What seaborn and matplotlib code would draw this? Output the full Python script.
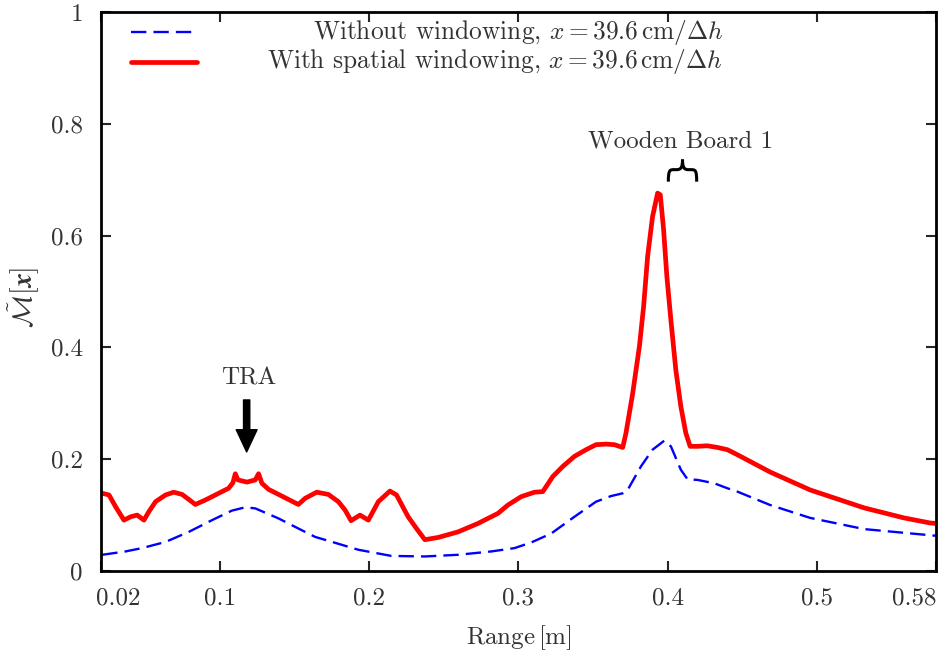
import numpy as np
import pandas as pd
import matplotlib
matplotlib.use("Agg")
import matplotlib.pyplot as plt
import matplotlib.transforms as mtrans
from matplotlib.path import Path
from matplotlib.patches import PathPatch
import seaborn as sns

# Normalised image magnitude along range, without windowing
range_plain = [0.0209, 0.0365, 0.0476, 0.0633, 0.0789, 0.0945, 0.1078, 0.1168, 0.1235,
               0.1391, 0.1524, 0.1636, 0.1725, 0.1926, 0.2147, 0.2372, 0.2595, 0.2818,
               0.2974, 0.3085, 0.3219, 0.3375, 0.3520, 0.3620, 0.3699, 0.3732, 0.3821,
               0.3899, 0.3977, 0.4022, 0.4089, 0.4134, 0.4200, 0.4312, 0.4401, 0.4468,
               0.4688, 0.4956, 0.5317, 0.5759, 0.5800]
mag_plain = [0.029, 0.035, 0.041, 0.052, 0.070, 0.091, 0.108, 0.114, 0.112,
             0.094, 0.076, 0.061, 0.054, 0.038, 0.027, 0.026, 0.029, 0.035,
             0.041, 0.051, 0.067, 0.097, 0.124, 0.134, 0.139, 0.145, 0.187,
             0.217, 0.233, 0.223, 0.181, 0.164, 0.163, 0.157, 0.148, 0.142,
             0.118, 0.095, 0.075, 0.064, 0.063]

# ... and with spatial windowing
range_win = [0.0209, 0.0254, 0.0298, 0.0354, 0.0399, 0.0443, 0.0488, 0.0521, 0.0566,
             0.0633, 0.0688, 0.0744, 0.0789, 0.0833, 0.0900, 0.0989, 0.1056, 0.1085,
             0.1101, 0.1118, 0.1179, 0.1235, 0.1257, 0.1279, 0.1324, 0.1413, 0.1524,
             0.1569, 0.1647, 0.1725, 0.1792, 0.1837, 0.1877, 0.1937, 0.1993, 0.2060,
             0.2138, 0.2182, 0.2260, 0.2316, 0.2372, 0.2461, 0.2595, 0.2728, 0.2862,
             0.2929, 0.3018, 0.3108, 0.3163, 0.3230, 0.3297, 0.3375, 0.3453, 0.3520,
             0.3587, 0.3643, 0.3699, 0.3721, 0.3766, 0.3811, 0.3839, 0.3866, 0.3899,
             0.3933, 0.3951, 0.3973, 0.3995, 0.4022, 0.4055, 0.4089, 0.4122, 0.4151,
             0.4200, 0.4267, 0.4334, 0.4401, 0.4468, 0.4688, 0.4956, 0.5317, 0.5585,
             0.5759, 0.5800]
mag_win = [0.139, 0.136, 0.115, 0.091, 0.097, 0.100, 0.091, 0.106, 0.124,
           0.136, 0.141, 0.137, 0.128, 0.119, 0.127, 0.139, 0.148, 0.158,
           0.174, 0.163, 0.159, 0.163, 0.174, 0.157, 0.146, 0.134, 0.119,
           0.130, 0.141, 0.137, 0.124, 0.109, 0.090, 0.100, 0.091, 0.124,
           0.143, 0.136, 0.097, 0.076, 0.056, 0.060, 0.070, 0.085, 0.103,
           0.118, 0.133, 0.141, 0.142, 0.169, 0.187, 0.205, 0.217, 0.226,
           0.227, 0.226, 0.221, 0.247, 0.318, 0.402, 0.473, 0.563, 0.634,
           0.676, 0.673, 0.611, 0.527, 0.449, 0.360, 0.294, 0.247, 0.223,
           0.223, 0.224, 0.221, 0.217, 0.208, 0.177, 0.145, 0.113, 0.095,
           0.086, 0.085]

label_plain = r"Without windowing, $x = 39.6\,\mathrm{cm}/\Delta h$"
label_win = r"With spatial windowing, $x = 39.6\,\mathrm{cm}/\Delta h$"

x_ticks = [0.02, 0.1, 0.2, 0.3, 0.4, 0.5, 0.58]
x_tick_labels = ["0.02", "0.1", "0.2", "0.3", "0.4", "0.5", "0.58"]
y_ticks = [0, 0.2, 0.4, 0.6, 0.8, 1.0]
y_tick_labels = ["0", "0.2", "0.4", "0.6", "0.8", "1"]

sns.set_theme(style="ticks")
plt.rcParams.update({
    "font.family": "serif",
    "font.serif": ["cmr10", "DejaVu Serif"],
    "mathtext.fontset": "cm",
    "axes.formatter.use_mathtext": True,
    "axes.unicode_minus": False,
})
TXT = "#333333"
FS = 18

fig = plt.figure(figsize=(9.41, 6.57), dpi=100)
ax = fig.add_axes([0.1073, 0.1309, 0.8874, 0.8508])

df_plain = pd.DataFrame({"range": range_plain, "mag": mag_plain})
df_win = pd.DataFrame({"range": range_win, "mag": mag_win})

sns.lineplot(data=df_plain, x="range", y="mag", ax=ax, color="#0000ff",
             linewidth=1.7, linestyle=(0, (6.5, 3.0)), estimator=None)
sns.lineplot(data=df_win, x="range", y="mag", ax=ax, color="#ff0000",
             linewidth=3.4, estimator=None)

ax.set_xlim(0.02, 0.58)
ax.set_ylim(0, 1)
ax.set_xticks(x_ticks)
ax.set_xticklabels(x_tick_labels)
ax.set_yticks(y_ticks)
ax.set_yticklabels(y_tick_labels)
ax.tick_params(direction="in", length=7, width=1.5, top=True, right=True,
               labelsize=FS, labelcolor=TXT)
ax.tick_params(axis="x", pad=12)
ax.tick_params(axis="y", pad=13)
# edge tick labels sit inside the frame
xlabels = ax.get_xticklabels()
xlabels[0].set_horizontalalignment("left")
xlabels[0].set_transform(xlabels[0].get_transform() +
                         mtrans.ScaledTranslation(-5 / 100, 0, fig.dpi_scale_trans))
xlabels[-1].set_horizontalalignment("right")
for s in ax.spines.values():
    s.set_linewidth(2.0)
    s.set_color("black")

ax.set_xlabel(r"Range$\,[\mathrm{m}]$", fontsize=FS, color=TXT, labelpad=10)
ax.set_ylabel(r"$\tilde{\mathcal{M}}[\mathbfit{x}]$", fontsize=20, color=TXT)
ax.yaxis.set_label_coords(-0.071, 0.49)

# key: line samples on the left, labels right-aligned
handles = ax.get_lines()[:2]
ax.legend(handles, ["", ""], loc="upper left", bbox_to_anchor=(0.0248, 0.9937),
          frameon=False, handlelength=3.0, handletextpad=0, labelspacing=0.45,
          fontsize=16, borderaxespad=0)
ax.text(0.745, 0.963, label_plain, transform=ax.transAxes, ha="right", va="center",
        fontsize=18.3, color=TXT)
ax.text(0.745, 0.911, label_win, transform=ax.transAxes, ha="right", va="center",
        fontsize=18.3, color=TXT)

# TRA marker
ax.text(0.119, 0.345, "TRA", ha="center", va="center", fontsize=FS, color=TXT)
ax.annotate("", xy=(0.1177, 0.213), xytext=(0.1177, 0.306),
            arrowprops=dict(facecolor="black", edgecolor="black", width=4.5,
                            headwidth=15, headlength=16, shrink=0))

# Wooden board label with brace
ax.text(0.4085, 0.768, "Wooden Board 1", ha="center", va="center", fontsize=FS, color=TXT)
x0, x1, xm = 0.4005, 0.4195, 0.410
yb, yh, yt = 0.6965, 0.718, 0.736
verts = [(x0, yb), (x0, yh), (x0 + 0.001, yh), (x0 + 0.004, yh),
         (xm - 0.004, yh),
         (xm - 0.001, yh), (xm, yh + 0.004), (xm, yt),
         (xm, yh + 0.004), (xm + 0.001, yh), (xm + 0.004, yh),
         (x1 - 0.004, yh),
         (x1 - 0.001, yh), (x1, yh), (x1, yb)]
codes = [Path.MOVETO, Path.CURVE4, Path.CURVE4, Path.CURVE4,
         Path.LINETO,
         Path.CURVE4, Path.CURVE4, Path.CURVE4,
         Path.CURVE4, Path.CURVE4, Path.CURVE4,
         Path.LINETO,
         Path.CURVE4, Path.CURVE4, Path.CURVE4]
ax.add_patch(PathPatch(Path(verts, codes), facecolor="none", edgecolor="black",
                       linewidth=2.2, clip_on=False))

fig.savefig("out.png", dpi=100)
